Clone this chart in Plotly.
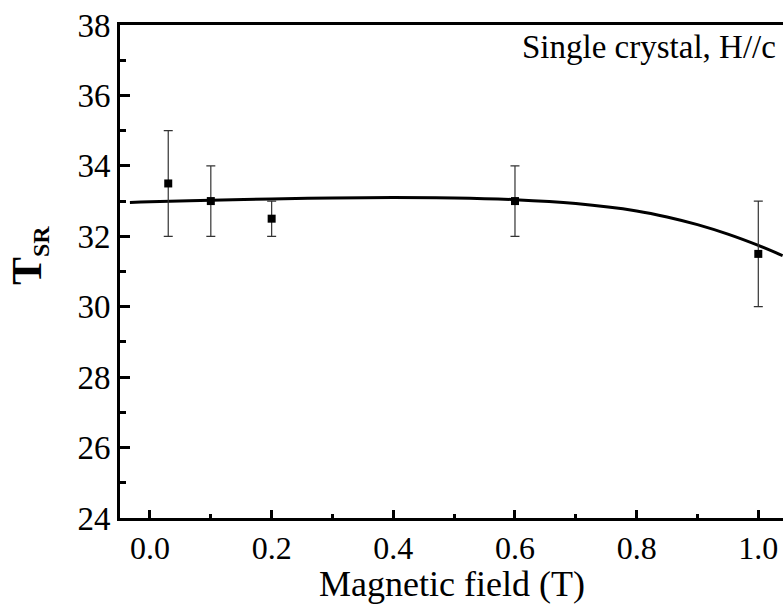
import plotly.graph_objects as go

# Measured transition temperature vs applied field
field = [0.03, 0.1, 0.2, 0.6, 1.0]
t_sr = [33.5, 33.0, 32.5, 33.0, 31.5]
err_plus = [1.5, 1.0, 0.5, 1.0, 1.5]
err_minus = [1.5, 1.0, 0.5, 1.0, 1.5]

# Fitted trend line
fit_field = [-0.033, 0.0, 0.1, 0.2, 0.3, 0.4, 0.5, 0.6, 0.7, 0.8, 0.85, 0.9, 0.95, 1.0, 1.04]
fit_t = [32.96, 32.98, 33.02, 33.06, 33.09, 33.10, 33.09, 33.04, 32.93, 32.72, 32.55, 32.33, 32.06, 31.74, 31.45]

FONT = "Liberation Serif"

fig = go.Figure()
fig.add_trace(go.Scatter(
    x=fit_field, y=fit_t, mode="lines", line_shape="spline",
    line=dict(color="black", width=3), showlegend=False, hoverinfo="skip",
))
fig.add_trace(go.Scatter(
    x=field, y=t_sr, mode="markers",
    marker=dict(symbol="square", size=8, color="black"),
    error_y=dict(type="data", symmetric=False, array=err_plus, arrayminus=err_minus,
                 color="#333333", thickness=1.2, width=4.5),
    showlegend=False,
))

fig.update_layout(
    width=783, height=607,
    margin=dict(l=120, r=0, t=25, b=89),
    paper_bgcolor="white", plot_bgcolor="white",
    font=dict(family=FONT, color="black", size=32),
    xaxis=dict(
        range=[-0.0493, 1.0406], dtick=0.2, tick0=0, tickformat=".1f",
        showline=True, linecolor="black", linewidth=3, mirror=True,
        ticks="inside", ticklen=8, tickwidth=3, tickcolor="black",
        minor=dict(dtick=0.1, ticks="inside", ticklen=4, tickwidth=3, tickcolor="black"),
        showgrid=False, zeroline=False,
        tickfont=dict(family=FONT, size=32),
    ),
    yaxis=dict(
        range=[24, 38], dtick=2, tick0=24,
        showline=True, linecolor="black", linewidth=3, mirror=False,
        ticks="inside", ticklen=10, tickwidth=3, tickcolor="black",
        minor=dict(dtick=1, ticks="inside", ticklen=6, tickwidth=3, tickcolor="black"),
        showgrid=False, zeroline=False,
        tickfont=dict(family=FONT, size=33),
    ),
    annotations=[
        dict(text="Magnetic field (T)", xref="paper", yref="paper",
             x=0.5, y=-0.1765, xanchor="center", yanchor="bottom", showarrow=False,
             borderpad=0, font=dict(family=FONT, size=36, color="black")),
        dict(text="Single crystal, H//c", xref="paper", yref="paper",
             x=0.992, y=0.995, xanchor="right", yanchor="top", showarrow=False,
             font=dict(family=FONT, size=33, color="black")),
        dict(text="<b>T<sub><span style='font-size:24px'>SR</span></sub></b>",
             xref="paper", yref="paper",
             x=-0.1375, y=0.533, xanchor="center", yanchor="middle", textangle=-90,
             showarrow=False, font=dict(family=FONT, size=42, color="black")),
    ],
)

fig.write_html("out.html")
